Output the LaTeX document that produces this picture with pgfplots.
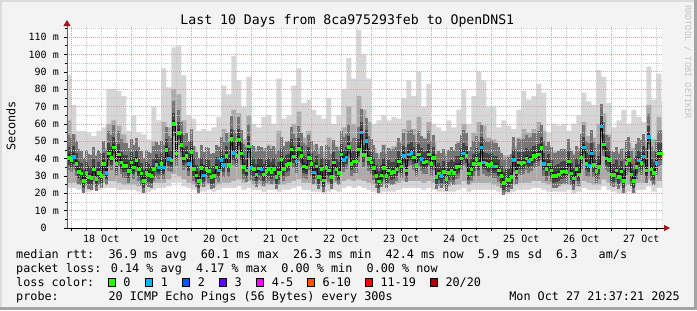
\documentclass[border=0pt]{standalone}
\usepackage{pgfplots}
\pgfplotsset{compat=1.18}
\usepackage{pgfplotstable}
\usepackage{fontspec}
\setmainfont{DejaVu Sans Mono}
\usetikzlibrary{arrows.meta}
\definecolor{canvas}{HTML}{F3F3F3}
\definecolor{shadeA}{HTML}{DCDCDC}
\definecolor{shadeB}{HTML}{A4A4A4}
\definecolor{gridred}{HTML}{E4A0A0}
\definecolor{gridgray}{HTML}{C8C8C8}
\definecolor{axisgray}{HTML}{606060}
\definecolor{arrowred}{HTML}{A01818}
\definecolor{smk1}{HTML}{D6D6D6}
\definecolor{smk2}{HTML}{ABABAB}
\definecolor{smkmid}{HTML}{767676}
\definecolor{smkdark}{HTML}{444444}
\definecolor{smkcore}{HTML}{262626}
\definecolor{lossg}{HTML}{26FF00}
\definecolor{lossb}{HTML}{00B8FF}
\definecolor{loss2}{HTML}{0059FF}
\definecolor{loss3}{HTML}{5E00FF}
\definecolor{loss4}{HTML}{FF00FF}
\definecolor{loss6}{HTML}{FF5500}
\definecolor{loss11}{HTML}{FF0000}
\definecolor{loss20}{HTML}{A10000}
\definecolor{credit}{HTML}{C4C4C4}

\pgfplotstableread{
h med c
-1 40.5 g
0 39 g
1 41 b
2 37 g
3 32.6 g
4 31.5 g
5 27.3 g
6 32 g
7 29.5 g
8 29 g
9 33.8 g
10 28.4 g
11 32 g
12 30 g
13 37 g
14 32 b
15 43 g
16 40.5 g
17 46.5 g
18 37 g
19 42.6 g
20 38 g
21 36 g
22 36 g
23 33 g
24 38 g
25 35 g
26 39 g
27 33.8 g
28 31.5 g
29 27.3 g
30 32 g
31 30.7 g
32 30 g
33 34 g
34 36.5 g
35 35 b
36 37 g
37 35 b
38 45 g
39 40 b
40 39 g
41 60 g
42 43 g
43 55 g
44 48 g
45 40.3 g
46 41.5 g
47 37 b
48 44 g
49 34.2 g
50 30.5 g
51 27.1 g
52 34.6 g
53 30.5 b
54 33.8 g
55 33 g
56 29.4 g
57 30 g
58 35 g
59 33.4 b
60 39.2 b
61 36.3 b
62 41.5 g
63 36.3 g
64 51.3 g
65 43.4 b
66 41.5 g
67 51.1 g
68 43.2 g
69 35.3 g
70 33.4 g
71 47.2 g
72 34.8 b
73 34 g
74 30.9 g
75 34.4 g
76 33.8 b
77 31.1 g
78 33 g
79 34.2 g
80 32.3 g
81 34.2 g
82 29.6 g
83 31.9 g
84 39.6 g
85 34.2 g
86 36.3 g
87 36.9 g
88 45.3 g
89 41.3 g
90 38.6 b
91 45.7 g
92 41.5 g
93 35.7 g
94 35 g
95 40.5 g
96 37.2 g
97 32.1 b
98 35.5 g
99 29.6 g
100 34.2 g
101 27.6 g
102 34.6 g
103 33.4 g
104 29.6 g
105 37.8 g
106 33.8 g
107 31.9 g
108 42.6 g
109 39.2 b
110 40.9 b
111 46.9 g
112 37.2 g
113 38.6 g
114 38.6 g
115 45.3 g
116 55.3 b
117 42.1 g
118 50.3 b
119 40.1 g
120 38 g
121 34.6 g
122 30.1 g
123 26.9 g
124 30.5 g
125 34.6 g
126 30.1 g
127 33.2 g
128 31.9 g
129 32.3 g
130 33.8 g
131 38.6 g
132 35.7 g
133 41.5 b
134 33.4 g
135 42.6 b
136 43.4 b
137 40.7 g
138 36.3 g
139 42.6 g
140 39.9 b
141 38 g
142 38.4 g
143 42.6 g
144 37.2 g
145 40.5 g
146 29.6 g
147 31.5 g
148 30 b
149 32.5 g
150 28.4 g
151 31.9 g
152 33.4 g
153 31.9 g
154 35.3 g
155 35.7 g
156 40.3 g
157 43.2 b
158 41.5 g
159 31.5 g
160 33.8 g
161 36.9 g
162 40.1 g
163 37.2 g
164 46.5 b
165 38 b
166 37.2 g
167 36.5 g
168 37.2 g
169 35.7 b
170 35.7 g
171 33.4 g
172 30 g
173 26.1 g
174 27.8 g
175 27.8 g
176 29.6 g
177 39.2 b
178 32.5 g
179 38 g
180 37.6 g
181 38 g
182 40.3 g
183 38.8 b
184 39.6 g
185 41.5 g
186 41.9 g
187 42.6 g
188 46.3 g
189 37.2 b
190 34 g
191 36.7 g
192 33.4 g
193 30 g
194 30.3 g
195 31.1 g
196 32.3 g
197 32.8 g
198 32.6 g
199 38.4 g
200 31.5 g
201 28.8 g
202 34.2 g
203 31.1 g
204 40.9 g
205 46.5 b
206 37.2 g
207 36.1 b
208 43.2 b
209 36.3 g
210 33 g
211 35.3 g
212 58.6 b
213 48.2 g
214 40.3 g
215 39.2 g
216 31.1 g
217 30.7 g
218 33.4 g
219 29.6 g
220 32.8 g
221 27.3 g
222 37.6 g
223 39.2 g
224 31.1 g
225 27.3 g
226 35.3 g
227 39 b
228 37.6 g
229 41.3 b
230 33.2 g
231 52.6 b
232 33.8 g
233 31.9 g
234 37.6 b
235 43 g
236 43.2 g
}\med

\pgfplotstableread{
h hi u2 l1 lo
-3 88 62 26 23
-1 88 62 26 23
1 71 54 26 23
3 56 43 25 22
5 56 40 24 21
7 55 41 24 21
9 53 42 25 22
11 56 43 25 22
13 58 46 26 23
15 80 60 27 23
17 80 62 27 23
19 79 59 26 22
21 76 54 25 22
23 56 43 25 22
25 65 48 25 22
27 55 43 24 21
29 54 39 24 20
31 51 40 25 21
33 70 50 26 22
35 62 47 26 23
37 92 61 26 23
39 81 58 28 24
41 104 80 31 26
43 105 77 30 26
45 88 62 28 24
47 65 50 26 23
49 63 47 25 22
51 56 40 24 21
53 57 42 24 21
55 56 43 25 22
57 58 43 24 21
59 64 47 25 22
61 82 57 26 23
63 77 55 26 23
65 99 68 27 23
67 85 66 28 24
69 70 51 26 22
71 87 65 27 23
73 60 46 25 22
75 58 45 25 22
77 64 46 24 21
79 65 48 25 22
81 60 46 25 22
83 86 56 25 21
85 63 47 25 22
87 65 50 26 22
89 82 60 27 23
91 92 67 28 24
93 72 52 26 22
95 74 56 26 22
97 68 48 25 21
99 65 46 24 21
101 63 44 24 20
103 75 52 25 21
105 60 48 26 22
107 65 47 25 21
109 80 58 27 23
111 98 70 28 24
113 86 60 27 23
115 114 76 28 24
117 100 68 27 23
119 86 61 26 22
121 60 46 25 21
123 62 43 24 20
125 65 48 25 21
127 62 46 25 21
129 64 47 25 21
131 63 50 26 22
133 75 57 27 23
135 85 62 27 23
137 76 57 27 23
139 90 64 27 23
141 70 52 26 22
143 83 61 27 23
145 60 49 26 22
147 58 43 24 21
149 56 43 24 21
151 62 45 24 21
153 58 44 25 21
155 68 50 25 22
157 80 60 27 23
159 60 44 25 21
161 76 55 26 22
163 90 61 26 22
165 85 59 26 22
167 70 52 26 22
169 70 51 25 22
171 58 45 24 21
173 62 42 23 20
175 59 42 23 20
177 57 47 25 21
179 68 52 26 22
181 79 57 26 22
183 74 55 26 22
185 76 57 27 23
187 83 61 27 23
189 78 56 26 22
191 55 45 25 21
193 60 44 24 21
195 59 44 24 21
197 60 45 25 21
199 56 46 25 22
201 60 43 24 20
203 65 46 24 21
205 78 61 27 23
207 73 53 26 22
209 71 52 25 22
211 91 60 25 22
213 87 66 28 24
215 72 54 26 22
217 58 43 24 21
219 62 44 24 20
221 68 46 24 20
223 60 49 25 21
225 68 46 24 20
227 64 50 26 22
229 61 50 26 22
231 93 71 28 24
233 74 51 25 21
235 89 64 27 23
237 73 56 27 23
}\smoke

\pgfplotsset{
  core/.style n args={3}{forget plot, draw=none, mark=none,
    error bars/.cd, y dir=#1, y fixed=#2, error mark=none,
    error bar style={line width=2.6bp, draw=#3}}
}

\begin{document}
\begin{tikzpicture}[x=1bp,y=1bp]
\useasboundingbox (-67,-82) rectangle (630,228);
\fill[canvas] (-67,-82) rectangle (630,228);
\fill[shadeA] (-67,226) rectangle (630,228);
\fill[shadeA] (-67,-82) rectangle (-65,228);
\fill[shadeB] (-67,-82) rectangle (630,-79);
\fill[shadeB] (627,-82) rectangle (630,228);

\begin{axis}[
  at={(0,0)}, anchor=south west,
  scale only axis, width=595bp, height=201bp,
  xmin=-1.7, xmax=236.3, ymin=0, ymax=115.8,
  axis background/.style={fill=white},
  axis on top,
  axis lines*=left,
  x axis line style={draw=black, line width=0.8bp, shorten >=-8bp, -{Triangle[length=6bp,width=6bp,color=arrowred]}},
  y axis line style={draw=axisgray, line width=0.8bp, shorten >=-7bp, -{Triangle[length=6bp,width=7bp,color=arrowred]}},
  xtick={0,24,48,72,96,120,144,168,192,216},
  xticklabels={},
  minor xtick={6,12,18,30,36,42,54,60,66,78,84,90,102,108,114,126,132,138,150,156,162,174,180,186,198,204,210,222,228,234},
  extra x ticks={12,36,60,84,108,132,156,180,204,228},
  extra x tick labels={18 Oct,19 Oct,20 Oct,21 Oct,22 Oct,23 Oct,24 Oct,25 Oct,26 Oct,27 Oct},
  extra x tick style={grid=none},
  ytick={0,10,20,30,40,50,60,70,80,90,100,110},
  yticklabels={0\phantom{00},10 m,20 m,30 m,40 m,50 m,60 m,70 m,80 m,90 m,100 m,110 m},
  minor ytick={5,15,25,35,45,55,65,75,85,95,105,115},
  grid=both,
  major grid style={draw=gridred, line width=0.6bp, dash pattern=on 1bp off 1bp},
  minor grid style={draw=gridgray, line width=0.6bp, dash pattern=on 1bp off 1bp},
  tick align=outside,
  major tick length=3bp, minor tick length=2bp,
  tick style={draw=black, line width=0.5bp},
  ticklabel style={font=\fontsize{10bp}{12bp}\selectfont, inner sep=0pt},
  xticklabel style={anchor=base, yshift=-11bp},
  yticklabel style={anchor=east, xshift=-5bp},
]
% smoke envelope
\addplot[const plot mark mid, fill=smk1, draw=none, forget plot] table[x=h, y=hi] {\smoke} \closedcycle;
\addplot[const plot mark mid, fill=smk2, draw=none, forget plot] table[x=h, y=u2] {\smoke} \closedcycle;
\addplot[const plot mark mid, fill=smk1, draw=none, forget plot] table[x=h, y=l1] {\smoke} \closedcycle;
\addplot[const plot mark mid, fill=white, draw=none, forget plot] table[x=h, y=lo] {\smoke} \closedcycle;
% smoke core around the median
\addplot[core={plus}{13}{smkmid}] table[x=h, y=med] {\med};
\addplot[core={minus}{7}{smkmid}] table[x=h, y=med] {\med};
\addplot[core={plus}{6}{smkdark}] table[x=h, y=med] {\med};
\addplot[core={minus}{4}{smkdark}] table[x=h, y=med] {\med};
\addplot[core={both}{2}{smkcore}] table[x=h, y=med] {\med};
% median
\addplot[const plot mark mid, black, line width=0.7bp, mark=none, forget plot] table[x=h, y=med] {\med};
\addplot[scatter, only marks, scatter src=explicit symbolic,
  scatter/classes={g={mark=square*, fill=lossg, draw=lossg, mark size=1.3bp},
                   b={mark=square*, fill=lossb, draw=lossb, mark size=1.3bp}}]
  table[x=h, y=med, meta=c] {\med};
\end{axis}

\node[anchor=base, font=\fontsize{13.2bp}{15bp}\selectfont] at (280.3,203.7) {Last 10 Days from 8ca975293feb to OpenDNS1};
\node[rotate=90, font=\fontsize{11.8bp}{14bp}\selectfont, inner sep=0pt] at (-56,102) {Seconds};
\node[rotate=-90, anchor=west, inner sep=0pt, text=credit, font=\fontsize{8.6bp}{10bp}\selectfont] at (621,223) {RRDTOOL / TOBI OETIKER};

\begin{scope}[every node/.style={anchor=base west, inner sep=0pt, font=\fontsize{11.8bp}{14bp}\selectfont}]
\node at (-51,-30) {median rtt:~~36.9 ms avg~~60.1 ms max~~26.3 ms min~~42.4 ms now~~5.9 ms sd~~6.3~~~am/s};
\node at (-51,-44.2) {packet loss: 0.14 \% avg~~4.17 \% max~~0.00 \% min~~0.00 \% now};
\node at (-51,-58.5) {loss color:};
\node at (-51,-72.7) {probe:~~~~~~~20 ICMP Echo Pings (56 Bytes) every 300s};
\node[anchor=base east] at (613,-72.7) {Mon Oct 27 21:37:21 2025};
\node at (56.3,-58.5) {0};
\node at (93.7,-58.5) {1};
\node at (130.7,-58.5) {2};
\node at (167.3,-58.5) {3};
\node at (204.7,-58.5) {4-5};
\node at (255.3,-58.5) {6-10};
\node at (313.3,-58.5) {11-19};
\node at (378.3,-58.5) {20/20};
\end{scope}
\begin{scope}[line width=0.9bp]
\filldraw[fill=lossg, draw=black] (41.5,-58.3) rectangle (48.5,-50.3);
\filldraw[fill=lossb, draw=black] (78.9,-58.3) rectangle (85.9,-50.3);
\filldraw[fill=loss2, draw=black] (115.9,-58.3) rectangle (122.9,-50.3);
\filldraw[fill=loss3, draw=black] (152.5,-58.3) rectangle (159.5,-50.3);
\filldraw[fill=loss4, draw=black] (189.9,-58.3) rectangle (196.9,-50.3);
\filldraw[fill=loss6, draw=black] (240.5,-58.3) rectangle (247.5,-50.3);
\filldraw[fill=loss11, draw=black] (298.9,-58.3) rectangle (305.9,-50.3);
\filldraw[fill=loss20, draw=black] (363.9,-58.3) rectangle (370.9,-50.3);
\end{scope}
\end{tikzpicture}
\end{document}
